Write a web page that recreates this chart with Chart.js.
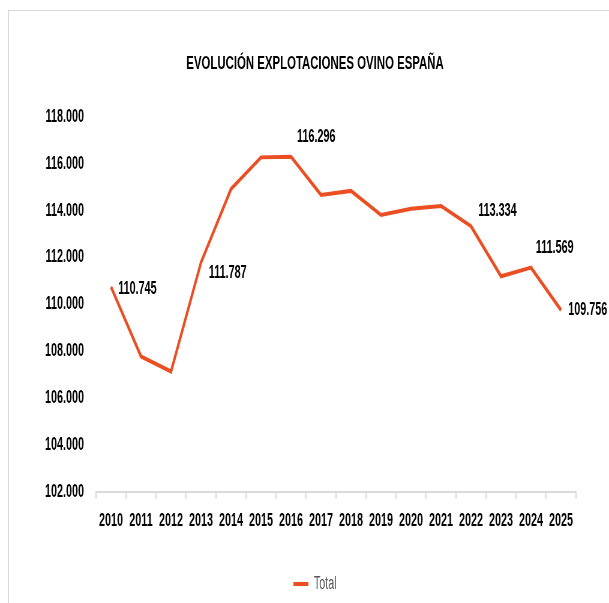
<!DOCTYPE html>
<html>
<head>
<meta charset="utf-8">
<script src="https://cdn.jsdelivr.net/npm/chart.js@4/dist/chart.umd.min.js"></script>
<style>
  html, body { margin: 0; padding: 0; background: #fff; overflow: hidden; width: 609px; height: 603px; }
  #frame { position: absolute; left: 8px; top: 10px; width: 660px; height: 660px; border: 1px solid #d9d9d9; }
  /* the original picture is squeezed sideways, so the chart is drawn wide and narrowed */
  #myChart { position: absolute; left: 0; top: 0; transform: scaleX(0.6); transform-origin: 0 0; }
</style>
</head>
<body>
<div id="frame"></div>
<canvas id="myChart" width="1015" height="603"></canvas>
<script>
// data (number of sheep farms)
var years = ['2010', '2011', '2012', '2013', '2014', '2015', '2016', '2017',
             '2018', '2019', '2020', '2021', '2022', '2023', '2024', '2025'];
var total = [110745, 107780, 107140, 111787, 114920, 116270, 116296, 114670,
             114840, 113810, 114080, 114200, 113334, 111200, 111569, 109756];
var yTicks = [102000, 104000, 106000, 108000, 110000, 112000, 114000, 116000, 118000];
var labelledYears = ['2010', '2013', '2016', '2022', '2024', '2025'];

var FONT = "'Liberation Sans', Arial, sans-serif";
var LINE = '#EB4E22';

// where each value label sits relative to its point (canvas px)
var labelOffsets = {
	'2010': [12, 2], '2013': [13, 11], '2016': [10, -20],
	'2022': [12, -15], '2024': [8, -20], '2025': [12, 0]
};

function fmt(v) {
	return String(v).replace(/\B(?=(\d{3})+(?!\d))/g, '.');
}

var valueLabels = {
	id: 'valueLabels',
	afterDatasetsDraw: function (chart) {
		var ctx = chart.ctx;
		var meta = chart.getDatasetMeta(0);
		ctx.save();
		ctx.font = 'bold 18px ' + FONT;
		ctx.fillStyle = '#000';
		ctx.textAlign = 'left';
		ctx.textBaseline = 'middle';
		for (var i = 0; i < years.length; i++) {
			if (labelledYears.indexOf(years[i]) < 0) continue;
			var pt = meta.data[i];
			var off = labelOffsets[years[i]] || [10, 0];
			ctx.fillText(fmt(total[i]), pt.x + off[0], pt.y + off[1]);
		}
		ctx.restore();
	}
};

var ctx = document.getElementById('myChart').getContext('2d');
new Chart(ctx, {
	type: 'line',
	data: {
		labels: years,
		datasets: [{
			label: 'Total',
			data: total,
			borderColor: LINE,
			backgroundColor: LINE,
			borderWidth: 4,
			pointRadius: 0,
			tension: 0,
			fill: false
		}]
	},
	options: {
		responsive: false,
		animation: false,
		devicePixelRatio: 1,
		layout: { padding: { left: 35, right: 0, top: 0, bottom: 0 } },
		plugins: {
			title: {
				display: true,
				text: 'EVOLUCIÓN EXPLOTACIONES OVINO ESPAÑA',
				color: '#000',
				font: { family: FONT, size: 19, weight: 'bold' },
				padding: { top: 52, bottom: 42 }
			},
			legend: {
				position: 'bottom',
				labels: {
					usePointStyle: true,
					pointStyle: 'line',
					pointStyleWidth: 25,
					color: '#595959',
					font: { family: FONT, size: 18 },
					padding: 8
				}
			},
			tooltip: { enabled: false }
		},
		scales: {
			x: {
				offset: true,
				grid: {
					offset: true,
					drawOnChartArea: false,
					drawTicks: true,
					tickLength: 7,
					lineWidth: 2,
					color: '#d9d9d9'
				},
				border: { display: true, color: '#d9d9d9', width: 2 },
				ticks: {
					color: '#000',
					font: { family: FONT, size: 18, weight: 'bold' },
					padding: 11,
					maxRotation: 0,
					autoSkip: false
				},
				afterFit: function (scale) { scale.height = 75; }
			},
			y: {
				min: yTicks[0],
				max: yTicks[yTicks.length - 1],
				grid: { display: false, drawTicks: false },
				border: { display: false },
				afterBuildTicks: function (scale) {
					scale.ticks = yTicks.map(function (v) { return { value: v }; });
				},
				ticks: {
					color: '#000',
					font: { family: FONT, size: 18, weight: 'bold' },
					padding: 20,
					callback: function (v) { return fmt(v); }
				},
				afterFit: function (scale) { scale.width = 125; }
			},
			// empty right-hand strip so the plot stops where the original does
			yRight: {
				position: 'right',
				grid: { display: false, drawTicks: false },
				border: { display: false },
				ticks: { display: false },
				afterFit: function (scale) { scale.width = 55; }
			}
		}
	},
	plugins: [valueLabels]
});
</script>
</body>
</html>
